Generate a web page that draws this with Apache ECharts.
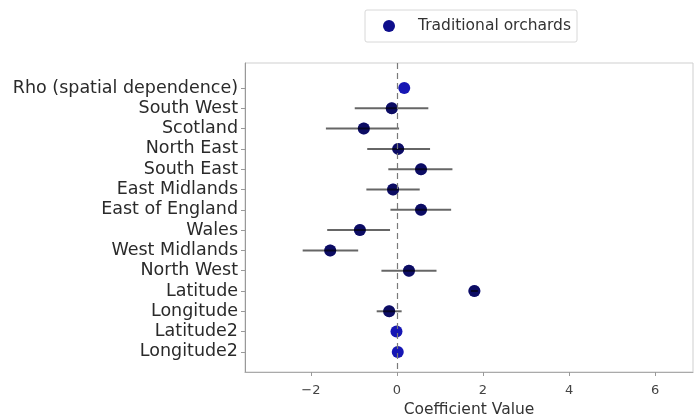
<!DOCTYPE html>
<html>
<head>
<meta charset="utf-8">
<script src="https://cdn.jsdelivr.net/npm/echarts@6/dist/echarts.min.js"></script>
<style>
  html, body { margin: 0; padding: 0; background: #fff; }
  #chart { width: 696px; height: 415px; }
</style>
</head>
<body>
<div id="chart"></div>
<script>
// Model terms, top to bottom
const terms = [
  'Rho (spatial dependence)', 'South West', 'Scotland', 'North East', 'South East',
  'East Midlands', 'East of England', 'Wales', 'West Midlands', 'North West',
  'Latitude', 'Longitude', 'Latitude2', 'Longitude2'
];
// Coefficient estimates
const estimates = [0.17, -0.12, -0.77, 0.03, 0.56, -0.09, 0.56, -0.86, -1.55, 0.28, 1.80, -0.18, -0.01, 0.02];
// Confidence interval bounds (null where no interval is shown)
const lower = [null, -0.98, -1.65, -0.69, -0.20, -0.71, -0.15, -1.62, -2.19, -0.36, 1.72, -0.47, null, null];
const upper = [null, 0.73, 0.05, 0.77, 1.29, 0.53, 1.26, -0.16, -0.90, 0.92, 1.88, 0.11, null, null];
const xTicks = [-2, 0, 2, 4, 6];
const seriesName = 'Traditional orchards';

const rowIndex = terms.map((_, i) => i);
const pointData = terms.map((_, i) => [estimates[i], i]);
const barData = terms
  .map((_, i) => [lower[i], upper[i], estimates[i], i])
  .filter(d => d[0] !== null);

const chart = echarts.init(document.getElementById('chart'), null, { renderer: 'canvas' });
const font = 'DejaVu Sans';

chart.setOption({
  animation: false,
  backgroundColor: '#fff',
  textStyle: { fontFamily: font },
  legend: {
    left: 365, top: 10,
    padding: [8, 6, 8, 18],
    borderColor: '#d8d8d8', borderWidth: 1, borderRadius: 2,
    itemWidth: 12, itemHeight: 12, itemGap: 10,
    textStyle: { fontFamily: font, fontSize: 15.5, color: '#333', padding: [0, 0, 0, 18] },
    data: [{ name: seriesName, icon: 'circle', itemStyle: { color: '#0e0e8c' } }]
  },
  grid: {
    left: 245, top: 63, right: 3, bottom: 43,
    containLabel: false, outerBoundsMode: 'none',
    show: true, borderColor: '#cfcfcf', borderWidth: 1, backgroundColor: 'transparent'
  },
  xAxis: {
    type: 'value', min: -3.53, max: 6.88,
    name: 'Coefficient Value', nameLocation: 'middle', nameGap: 27,
    nameTextStyle: { fontFamily: font, fontSize: 15.5, color: '#333' },
    axisLine: { show: true, onZero: false, lineStyle: { color: '#aaa' } },
    axisTick: { show: true, length: 4, lineStyle: { color: '#999' }, customValues: xTicks },
    axisLabel: {
      fontFamily: font, fontSize: 13, color: '#444', margin: 12, customValues: xTicks,
      formatter: v => (v < 0 ? '\u2212' + Math.abs(v) : String(v))
    },
    splitLine: { show: false }
  },
  yAxis: {
    type: 'value', inverse: true, min: -1.23, max: 13.99,
    axisLine: { show: true, onZero: false, lineStyle: { color: '#999' } },
    axisTick: { show: true, length: 4, lineStyle: { color: '#999' }, customValues: rowIndex },
    axisLabel: {
      fontFamily: font, fontSize: 17.5, color: '#2a2a2a', margin: 7,
      customValues: rowIndex,
      formatter: v => terms[Math.round(v)] || ''
    },
    splitLine: { show: false }
  },
  series: [
    {
      name: seriesName,
      type: 'scatter',
      data: pointData,
      symbol: 'circle',
      symbolSize: 12,
      itemStyle: { color: '#1616b4', opacity: 1 },
      z: 2,
      markLine: {
        silent: true, symbol: 'none', label: { show: false },
        lineStyle: { color: '#7a7a7a', type: [6, 4], width: 1.2 },
        data: [{ xAxis: 0 }]
      }
    },
    {
      name: 'interval',
      type: 'custom',
      data: barData,
      z: 3,
      renderItem: (params, api) => {
        const y = api.value(3);
        const a = api.coord([api.value(0), y]);
        const b = api.coord([api.value(1), y]);
        const c = api.coord([api.value(2), y]);
        return {
          type: 'group',
          children: [
            {
              type: 'line',
              shape: { x1: a[0], y1: a[1], x2: b[0], y2: b[1] },
              style: { stroke: 'rgba(0,0,0,0.6)', lineWidth: 2 }
            },
            {
              type: 'circle',
              shape: { cx: c[0], cy: c[1], r: 6 },
              style: { fill: 'rgba(0,0,0,0.45)' }
            }
          ]
        };
      }
    }
  ]
});
</script>
</body>
</html>
